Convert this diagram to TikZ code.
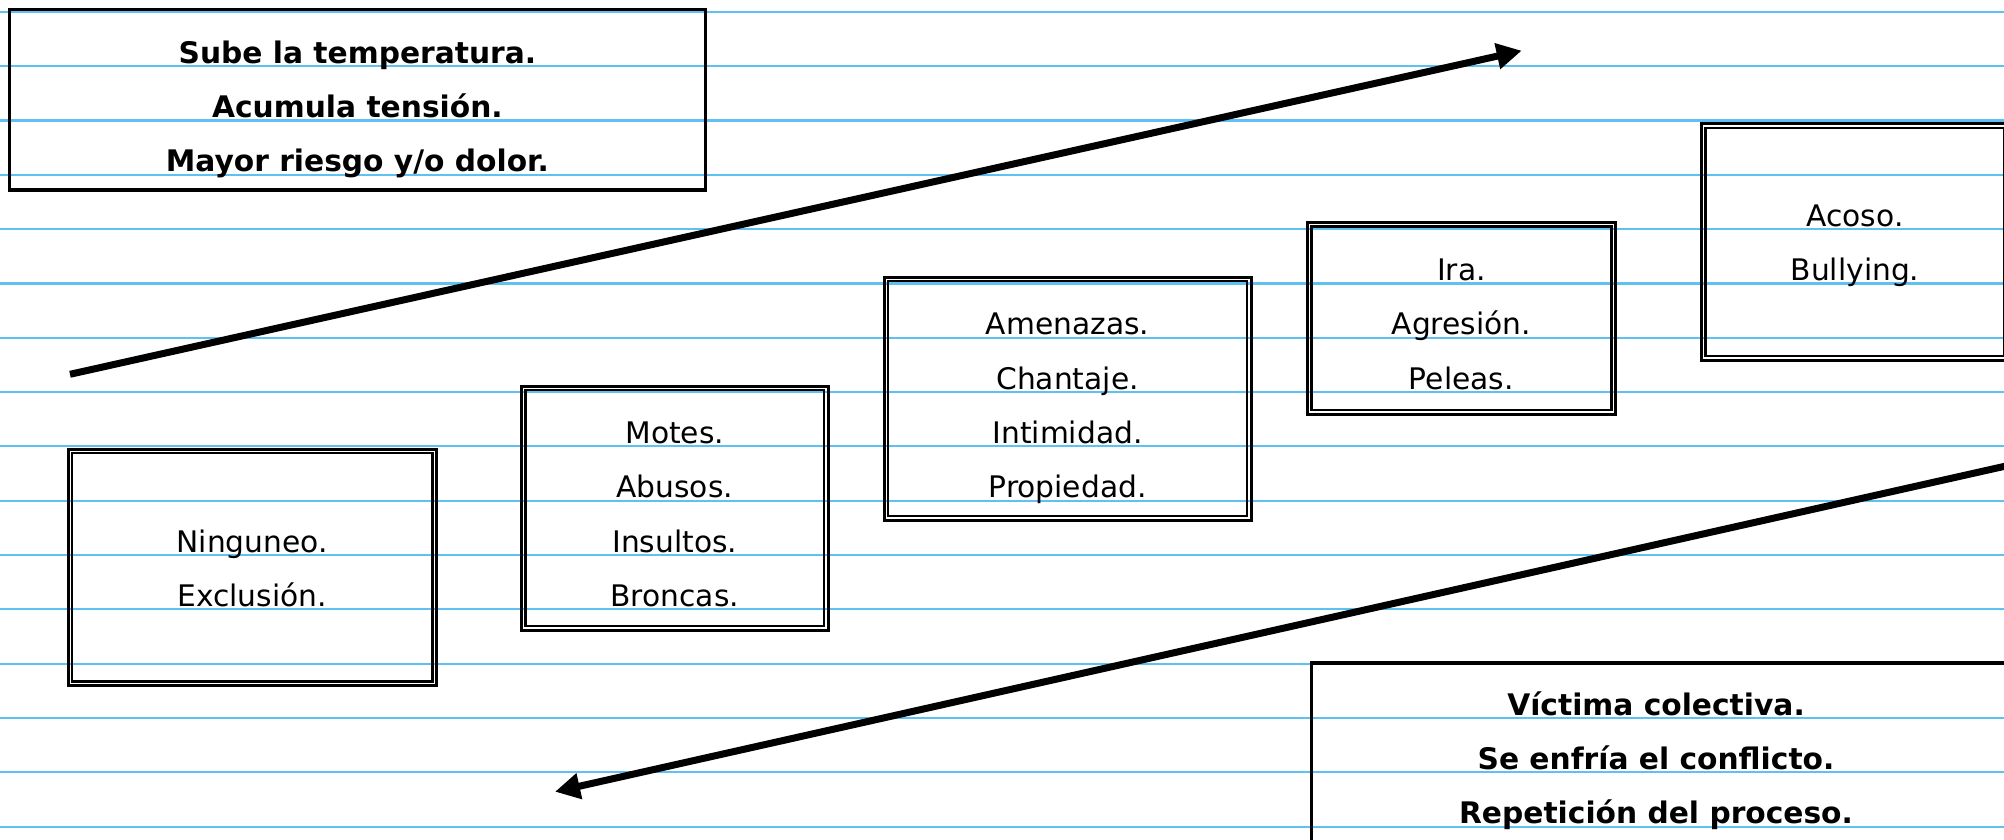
\documentclass[tikz,border=0pt]{standalone}
\usepackage{fontspec}
\setmainfont{DejaVu Sans}
\usetikzlibrary{arrows.meta}
\definecolor{ruleblue}{RGB}{95,192,242}

\begin{document}
\begin{tikzpicture}[x=1pt,y=-1pt,
  ruled/.style={draw=ruleblue,line width=2.1pt},
  plainbox/.style={rectangle,draw=black,line width=3.2pt,inner sep=0pt},
  outerline/.style={rectangle,draw=black,line width=3pt,inner sep=0pt},
  innerline/.style={draw=black,line width=2.5pt},
  txt/.style={anchor=base,inner sep=0pt,font=\fontsize{29.7}{36}\selectfont},
  txtb/.style={anchor=base,inner sep=0pt,font=\fontsize{29.7}{36}\selectfont\bfseries},
  bigarrow/.style={draw=black,line width=7pt,-{Triangle[length=25pt,width=25pt]}}]

% page
\clip (0,0) rectangle (2004,840);
\fill[white] (0,0) rectangle (2004,840);

% ruled paper
\foreach \k in {0,...,15}
  \draw[ruled] (0,{11.8+54.33*\k}) -- (2004,{11.8+54.33*\k});

% framed notes
\node[plainbox,minimum width=696.2pt,minimum height=180.8pt] (rise) at (357.4,99.6) {};
\node[plainbox,minimum width=698.5pt,minimum height=197pt] (cool) at (1660.75,761.5) {};

% escalation steps, double frames
\node[outerline,minimum width=368.4pt,minimum height=236.7pt] (s1) at (252.2,567.35) {};
\node[outerline,minimum width=306.8pt,minimum height=244pt] (s2) at (674.7,508) {};
\node[outerline,minimum width=367.1pt,minimum height=243.1pt] (s3) at (1067.55,398.55) {};
\node[outerline,minimum width=308.1pt,minimum height=191.8pt] (s4) at (1461.35,318.2) {};
\node[outerline,minimum width=307pt,minimum height=236.3pt] (s5) at (1854.8,241.85) {};
\foreach \b in {s1,s2,s3,s4,s5}
  \draw[innerline] ([shift={(5.6,5.6)}]\b.north west) rectangle ([shift={(-5.6,-5.6)}]\b.south east);

% arrows
\coordinate (upstart) at (70,374.3);
\coordinate (upend) at (1521.7,50.7);
\coordinate (downstart) at (2030,460.6);
\coordinate (downend) at (555,791.7);
\draw[bigarrow] (upstart) -- (upend);
\draw[bigarrow] (downstart) -- (downend);

% texts (baselines just above the ruled lines)
\node[txtb] (r1) at (357.4,{11.8+54.33*1-3}) {Sube la temperatura.};
\node[txtb] (r2) at (357.4,{11.8+54.33*2-3}) {Acumula tensión.};
\node[txtb] (r3) at (357.4,{11.8+54.33*3-3}) {Mayor riesgo y/o dolor.};

\node[txt] (a1) at (252.2,{11.8+54.33*10-3}) {Ninguneo.};
\node[txt] (a2) at (252.2,{11.8+54.33*11-3}) {Exclusión.};

\node[txt] (b1) at (674.7,{11.8+54.33*8-3}) {Motes.};
\node[txt] (b2) at (674.7,{11.8+54.33*9-3}) {Abusos.};
\node[txt] (b3) at (674.7,{11.8+54.33*10-3}) {Insultos.};
\node[txt] (b4) at (674.7,{11.8+54.33*11-3}) {Broncas.};

\node[txt] (c1) at (1067.55,{11.8+54.33*6-3}) {Amenazas.};
\node[txt] (c2) at (1067.55,{11.8+54.33*7-3}) {Chantaje.};
\node[txt] (c3) at (1067.55,{11.8+54.33*8-3}) {Intimidad.};
\node[txt] (c4) at (1067.55,{11.8+54.33*9-3}) {Propiedad.};

\node[txt] (d1) at (1461.35,{11.8+54.33*5-3}) {Ira.};
\node[txt] (d2) at (1461.35,{11.8+54.33*6-3}) {Agresión.};
\node[txt] (d3) at (1461.35,{11.8+54.33*7-3}) {Peleas.};

\node[txt] (e1) at (1855,{11.8+54.33*4-3}) {Acoso.};
\node[txt] (e2) at (1855,{11.8+54.33*5-3}) {Bullying.};

\node[txtb] (f1) at (1656,{11.8+54.33*13-3}) {Víctima colectiva.};
\node[txtb] (f2) at (1656,{11.8+54.33*14-3}) {Se enfría el conflicto.};
\node[txtb] (f3) at (1656,{11.8+54.33*15-3}) {Repetición del proceso.};
\end{tikzpicture}
\end{document}
